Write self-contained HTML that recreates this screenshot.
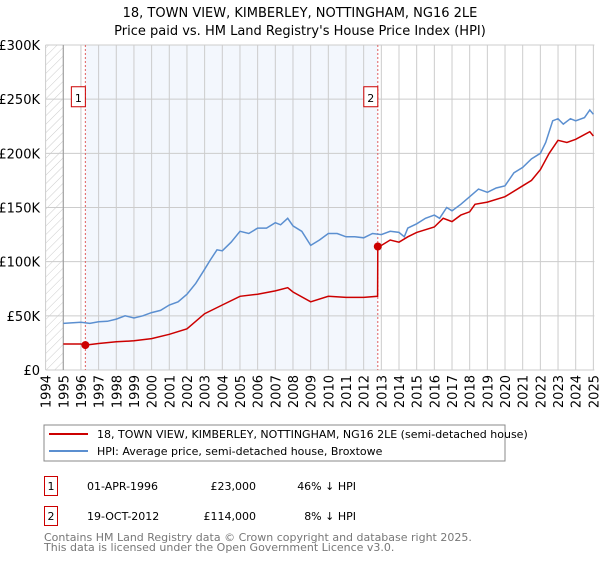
<!DOCTYPE html>
<html><head><meta charset="utf-8"><style>
body{margin:0;background:#fff;font-family:"DejaVu Sans","Liberation Sans",sans-serif;}
svg text{font-family:"DejaVu Sans","Liberation Sans",sans-serif;}
</style></head><body>
<svg id="chart" width="600" height="560" xmlns="http://www.w3.org/2000/svg">
<defs><pattern id="hatch" patternUnits="userSpaceOnUse" width="6" height="6" patternTransform="rotate(45)"><line x1="0" y1="0" x2="0" y2="6" stroke="#ccc" stroke-width="1"/></pattern></defs>
<text x="300" y="17" text-anchor="middle" font-size="13">18, TOWN VIEW, KIMBERLEY, NOTTINGHAM, NG16 2LE</text>
<text x="300" y="35" text-anchor="middle" font-size="13">Price paid vs. HM Land Registry's House Price Index (HPI)</text>
<g id="plot"></g>
<g>
<rect x="44" y="425" width="461" height="36" fill="#fff" stroke="#888" stroke-width="1"/>
<line x1="49" y1="434" x2="88" y2="434" stroke="#cc0000" stroke-width="2"/>
<text x="97" y="438" font-size="11">18, TOWN VIEW, KIMBERLEY, NOTTINGHAM, NG16 2LE (semi-detached house)</text>
<line x1="49" y1="451" x2="88" y2="451" stroke="#5b8fd0" stroke-width="2"/>
<text x="97" y="455" font-size="11">HPI: Average price, semi-detached house, Broxtowe</text>
</g>
<g font-size="11">
<rect x="44.5" y="476.5" width="13" height="19" fill="#fff" stroke="#cc0000"/>
<text x="51" y="490" text-anchor="middle">1</text>
<text x="87" y="490">01-APR-1996</text>
<text x="256" y="490" text-anchor="end">£23,000</text>
<text x="356" y="490" text-anchor="end">46% ↓ HPI</text>
<rect x="44.5" y="506.5" width="13" height="19" fill="#fff" stroke="#cc0000"/>
<text x="51" y="520" text-anchor="middle">2</text>
<text x="87" y="520">19-OCT-2012</text>
<text x="256" y="520" text-anchor="end">£114,000</text>
<text x="356" y="520" text-anchor="end">8% ↓ HPI</text>
</g>
<text x="44" y="541" font-size="11" fill="#777">Contains HM Land Registry data © Crown copyright and database right 2025.</text>
<text x="44" y="551" font-size="11" fill="#777">This data is licensed under the Open Government Licence v3.0.</text>
</svg>
<script>
const yTicks=[0,50,100,150,200,250,300];
const yTickLabels=["£0","£50K","£100K","£150K","£200K","£250K","£300K"];
const xYears=[1994,1995,1996,1997,1998,1999,2000,2001,2002,2003,2004,2005,2006,2007,2008,2009,2010,2011,2012,2013,2014,2015,2016,2017,2018,2019,2020,2021,2022,2023,2024,2025];
const hpiT=[1995,1996,1996.5,1997,1997.5,1998,1998.5,1999,1999.5,2000,2000.5,2001,2001.5,2002,2002.5,2003,2003.3,2003.7,2004,2004.5,2005,2005.5,2006,2006.5,2007,2007.3,2007.7,2008,2008.5,2009,2009.5,2010,2010.5,2011,2011.5,2012,2012.5,2013,2013.5,2014,2014.3,2014.5,2015,2015.5,2016,2016.3,2016.7,2017,2017.5,2018,2018.5,2019,2019.5,2020,2020.5,2021,2021.5,2022,2022.3,2022.7,2023,2023.3,2023.7,2024,2024.5,2024.8,2025];
const hpiV=[43,44,43,44.5,45,47,50,48,50,53,55,60,63,70,80,93,101,111,110,118,128,126,131,131,136,134,140,133,128,115,120,126,126,123,123,122,126,125,128,127,123,131,135,140,143,140,150,147,153,160,167,164,168,170,182,187,195,200,210,230,232,227,232,230,233,240,236];
const ppT=[1995,1996,1996.25,1997,1998,1999,2000,2001,2002,2003,2004,2005,2006,2007,2007.7,2008,2009,2010,2011,2012,2012.79,2012.8,2013,2013.5,2014,2014.5,2015,2016,2016.5,2017,2017.5,2018,2018.3,2019,2020,2021,2021.5,2022,2022.5,2023,2023.5,2024,2024.8,2025];
const ppV=[24,24,23,24.5,26,27,29,33,38,52,60,68,70,73,76,72,63,68,67,67,68,114,115,120,118,123,127,132,140,137,143,146,153,155,160,170,175,185,200,212,210,213,220,216];
const saleT=[1996.25,2012.8];
const saleV=[23,114];
const saleLabels=["1","2"];
const X0=45.6,XW=17.67,Y0=370,YK=325/300;
const x=t=>X0+(t-1994)*XW;
const y=v=>Y0-v*YK;
const ns="http://www.w3.org/2000/svg";
const g=document.getElementById('plot');
function mk(tag,attrs,parent){const e=document.createElementNS(ns,tag);for(const k in attrs)e.setAttribute(k,attrs[k]);(parent||g).appendChild(e);return e;}
const L=x(1994),R=x(2025)+1,T=y(300),B=y(0);
let e;
e=mk('rect',{x:x(saleT[0]),y:T,width:x(saleT[1])-x(saleT[0]),height:B-T,fill:'#eef3fc',opacity:0.7});


e=mk('rect',{x:L,y:T,width:x(1995)-L,height:B-T,fill:'url(#hatch)'});


xYears.forEach(yr=>{const l=mk('line',{x1:x(yr),x2:x(yr),y1:T,y2:B,stroke:'#ccc','stroke-width':1});


const tx=mk('text',{x:0,y:0,'font-size':13,'text-anchor':'end',transform:`translate(${x(yr)+5},${B+5}) rotate(-90)`});tx.textContent=yr;

});
yTicks.forEach((v,i)=>{const l=mk('line',{x1:L,x2:R,y1:y(v),y2:y(v),stroke:'#ccc','stroke-width':1});


const tx=mk('text',{x:40,y:y(v)+5,'font-size':13,'text-anchor':'end'});tx.textContent=yTickLabels[i];

});
e=mk('line',{x1:x(1995),x2:x(1995),y1:T,y2:B,stroke:'#999'});


saleT.forEach((t,i)=>{const l=mk('line',{x1:x(t),x2:x(t),y1:T,y2:B,stroke:'#e06060','stroke-dasharray':'2,2','stroke-width':1});


const r=mk('rect',{x:x(t)-14,y:y(255)-7,width:14,height:20,fill:'#fff',stroke:'#cc0000'});


const tx=mk('text',{x:x(t)-7,y:y(255)+8,'font-size':11,'text-anchor':'middle'});tx.textContent=saleLabels[i];

});
const pts=(T_,V_)=>T_.map((t,i)=>x(t).toFixed(1)+','+y(V_[i]).toFixed(1)).join(' ');
e=mk('polyline',{points:pts(hpiT,hpiV),fill:'none',stroke:'#5b8fd0','stroke-width':1.5});


e=mk('polyline',{points:pts(ppT,ppV),fill:'none',stroke:'#cc0000','stroke-width':1.5});


saleT.forEach((t,i)=>{const c=mk('circle',{cx:x(t),cy:y(saleV[i]),r:4,fill:'#cc0000'});

});
</script>
</body></html>
